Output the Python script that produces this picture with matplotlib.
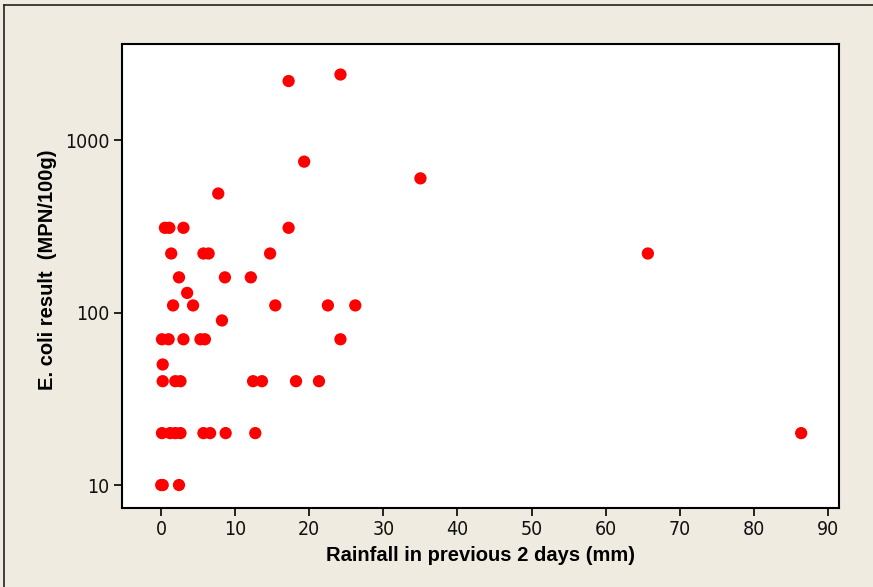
import matplotlib.pyplot as plt
from matplotlib.lines import Line2D
from matplotlib.ticker import FixedLocator, NullLocator

# rainfall in previous 2 days (mm) and E. coli result (MPN/100g)
rainfall = [0.0, 0.2, 2.4,
            1.2, 1.9, 2.6, 0.1, 5.7, 6.6, 8.7, 12.7, 86.4,
            0.2, 1.9, 2.6, 12.4, 13.6, 18.2, 21.3,
            0.2,
            0.1, 1.0, 3.0, 5.3, 5.9, 24.2,
            8.2,
            1.6, 4.3, 15.4, 22.5, 26.2,
            3.5,
            2.4, 8.6, 12.1,
            1.35, 5.7, 6.4, 14.7, 65.7,
            0.5, 1.1, 3.0, 17.2,
            7.7, 35.0, 19.3, 17.2, 24.2]
ecoli = [10, 10, 10,
         20, 20, 20, 20, 20, 20, 20, 20, 20,
         40, 40, 40, 40, 40, 40, 40,
         50,
         70, 70, 70, 70, 70, 70,
         90,
         110, 110, 110, 110, 110,
         130,
         160, 160, 160,
         220, 220, 220, 220, 220,
         310, 310, 310, 310,
         490, 600, 750, 2200, 2400]

xticks = [0, 10, 20, 30, 40, 50, 60, 70, 80, 90]
yticks = [10, 100, 1000]

bg = "#efebe1"
fig = plt.figure(figsize=(8.73, 5.87), dpi=100, facecolor=bg)
ax = fig.add_axes([0.1397, 0.1346, 0.8213, 0.7904])
ax.set_facecolor("white")

ax.scatter(rainfall, ecoli, s=78, color="#ff0000", edgecolors="none", zorder=3)

ax.set_yscale("log")
ax.set_xlim(-5.3, 91.5)
ax.set_ylim(7.36, 3606)
ax.xaxis.set_major_locator(FixedLocator(xticks))
ax.yaxis.set_major_locator(FixedLocator(yticks))
ax.yaxis.set_minor_locator(NullLocator())
ax.set_xticklabels([str(v) for v in xticks])
ax.set_yticklabels([str(v) for v in yticks])

for lab in ax.get_xticklabels() + ax.get_yticklabels():
    lab.set_family(["DejaVu Sans", "Liberation Sans"])
    lab.set_fontstretch("condensed")
    lab.set_fontsize(14)
    lab.set_color("#111111")

ax.tick_params(direction="out", length=6, width=1.2, top=False, right=False, pad=3)
for sp in ax.spines.values():
    sp.set_linewidth(1.5)
    sp.set_color("black")

labfont = ["Liberation Sans", "DejaVu Sans"]
ax.set_xlabel("Rainfall in previous 2 days (mm)", fontsize=14.5, fontweight="bold",
              family=labfont, labelpad=5)
ax.set_ylabel("E. coli result  (MPN/100g)", fontsize=14.5, fontweight="bold",
              family=labfont)
ax.yaxis.set_label_coords(-0.091, 0.513)

# outer frame of the screenshot (top and left edges only)
fig.add_artist(Line2D([4 / 873, 1.0], [1 - 4.5 / 587, 1 - 4.5 / 587], color="#222222", lw=1.2))
fig.add_artist(Line2D([4 / 873, 4 / 873], [0.0, 1 - 4.5 / 587], color="#222222", lw=1.2))

fig.savefig("out.png", dpi=100, facecolor=bg)
